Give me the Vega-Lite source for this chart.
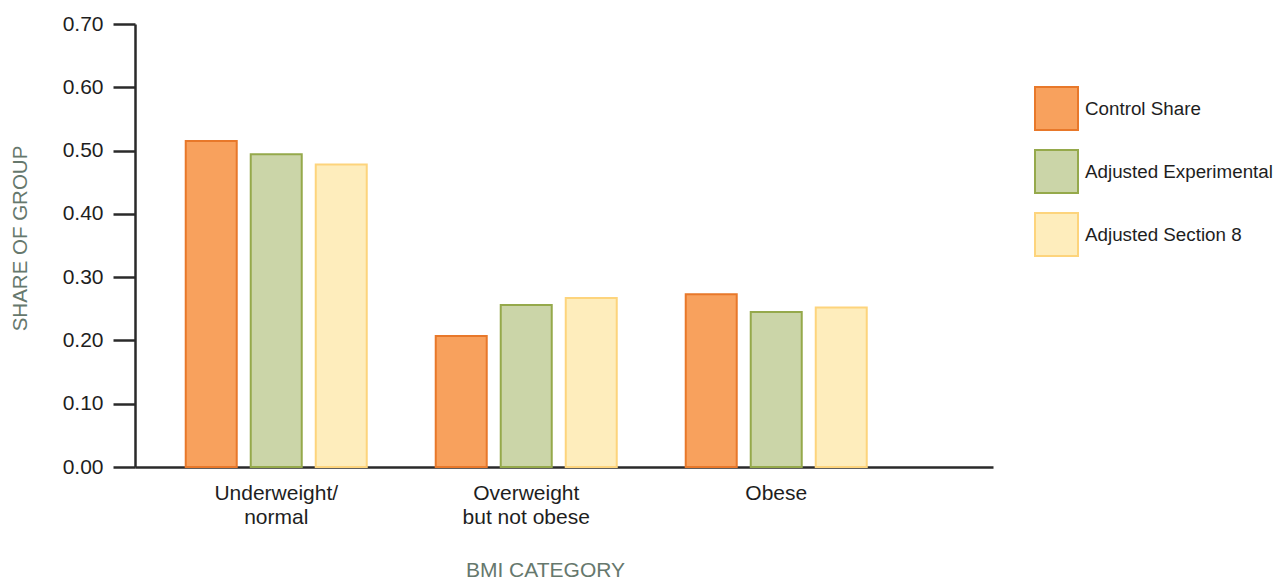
{
  "$schema": "https://vega.github.io/schema/vega-lite/v6.json",
  "width": 858,
  "height": 443,
  "autosize": {"type": "none"},
  "padding": {"left": 135, "top": 24, "right": 293, "bottom": 113},
  "background": "white",
  "config": {
    "font": "Liberation Sans",
    "view": {"stroke": null}
  },
  "data": {
    "values": [
      {"category": "Underweight/|normal", "group": "Control Share", "share": 0.515},
      {"category": "Underweight/|normal", "group": "Adjusted Experimental", "share": 0.494},
      {"category": "Underweight/|normal", "group": "Adjusted Section 8", "share": 0.478},
      {"category": "Overweight|but not obese", "group": "Control Share", "share": 0.207},
      {"category": "Overweight|but not obese", "group": "Adjusted Experimental", "share": 0.256},
      {"category": "Overweight|but not obese", "group": "Adjusted Section 8", "share": 0.267},
      {"category": "Obese", "group": "Control Share", "share": 0.273},
      {"category": "Obese", "group": "Adjusted Experimental", "share": 0.245},
      {"category": "Obese", "group": "Adjusted Section 8", "share": 0.252}
    ]
  },
  "mark": {"type": "bar", "strokeWidth": 2},
  "encoding": {
    "x": {
      "field": "category",
      "type": "nominal",
      "sort": null,
      "scale": {"paddingInner": 0.2, "paddingOuter": 0.316, "align": 0.261},
      "axis": {
        "title": "BMI CATEGORY",
        "titleFont": "Liberation Sans",
        "titleFontSize": 21,
        "titleFontWeight": "normal",
        "titleColor": "#66786d",
        "titleX": 410,
        "titleY": 109,
        "titleAlign": "center",
        "titleBaseline": "alphabetic",
        "labelExpr": "split(datum.label, '|')",
        "labelAngle": 0,
        "labelFontSize": 21,
        "labelColor": "#1e1e1e",
        "labelLineHeight": 24,
        "labelPadding": 15,
        "labelBaseline": "top",
        "ticks": false,
        "domainColor": "#2a2a2a",
        "domainWidth": 2.5
      }
    },
    "xOffset": {
      "field": "group",
      "type": "nominal",
      "sort": ["Control Share", "Adjusted Experimental", "Adjusted Section 8"],
      "scale": {"paddingInner": 0.2154, "paddingOuter": 0.146}
    },
    "y": {
      "field": "share",
      "type": "quantitative",
      "scale": {"domain": [0, 0.7], "nice": false},
      "axis": {
        "title": "SHARE OF GROUP",
        "titleFont": "Liberation Sans",
        "titleFontSize": 20.5,
        "titleFontWeight": "normal",
        "titleColor": "#66786d",
        "titlePadding": 32,
        "titleY": 214,
        "values": [0, 0.1, 0.2, 0.3, 0.4, 0.5, 0.6, 0.7],
        "format": ".2f",
        "labelFontSize": 21,
        "labelColor": "#1e1e1e",
        "labelPadding": 10,
        "tickSize": 22,
        "tickColor": "#2a2a2a",
        "tickWidth": 2.5,
        "domainColor": "#2a2a2a",
        "domainWidth": 2.5,
        "grid": false
      }
    },
    "fill": {
      "field": "group",
      "type": "nominal",
      "sort": ["Control Share", "Adjusted Experimental", "Adjusted Section 8"],
      "scale": {
        "domain": ["Control Share", "Adjusted Experimental", "Adjusted Section 8"],
        "range": ["#f8a15d", "#cbd5a8", "#feedbc"]
      },
      "legend": {
        "title": null,
        "orient": "none",
        "legendX": 899,
        "legendY": 62,
        "padding": 0,
        "symbolType": "square",
        "symbolSize": 1849,
        "symbolStrokeWidth": 2,
        "symbolOpacity": 1,
        "rowPadding": 12,
        "labelFontSize": 18.8,
        "labelColor": "#1e1e1e",
        "labelOffset": 6,
        "labelLimit": 400
      }
    },
    "stroke": {
      "field": "group",
      "type": "nominal",
      "sort": ["Control Share", "Adjusted Experimental", "Adjusted Section 8"],
      "scale": {
        "domain": ["Control Share", "Adjusted Experimental", "Adjusted Section 8"],
        "range": ["#e8782a", "#95a94b", "#fdd47c"]
      },
      "legend": {
        "title": null,
        "orient": "none",
        "legendX": 899,
        "legendY": 62,
        "padding": 0,
        "symbolType": "square",
        "symbolSize": 1849,
        "symbolStrokeWidth": 2,
        "rowPadding": 12,
        "labelFontSize": 18.8,
        "labelColor": "#1e1e1e",
        "labelOffset": 6,
        "labelLimit": 400
      }
    }
  }
}
